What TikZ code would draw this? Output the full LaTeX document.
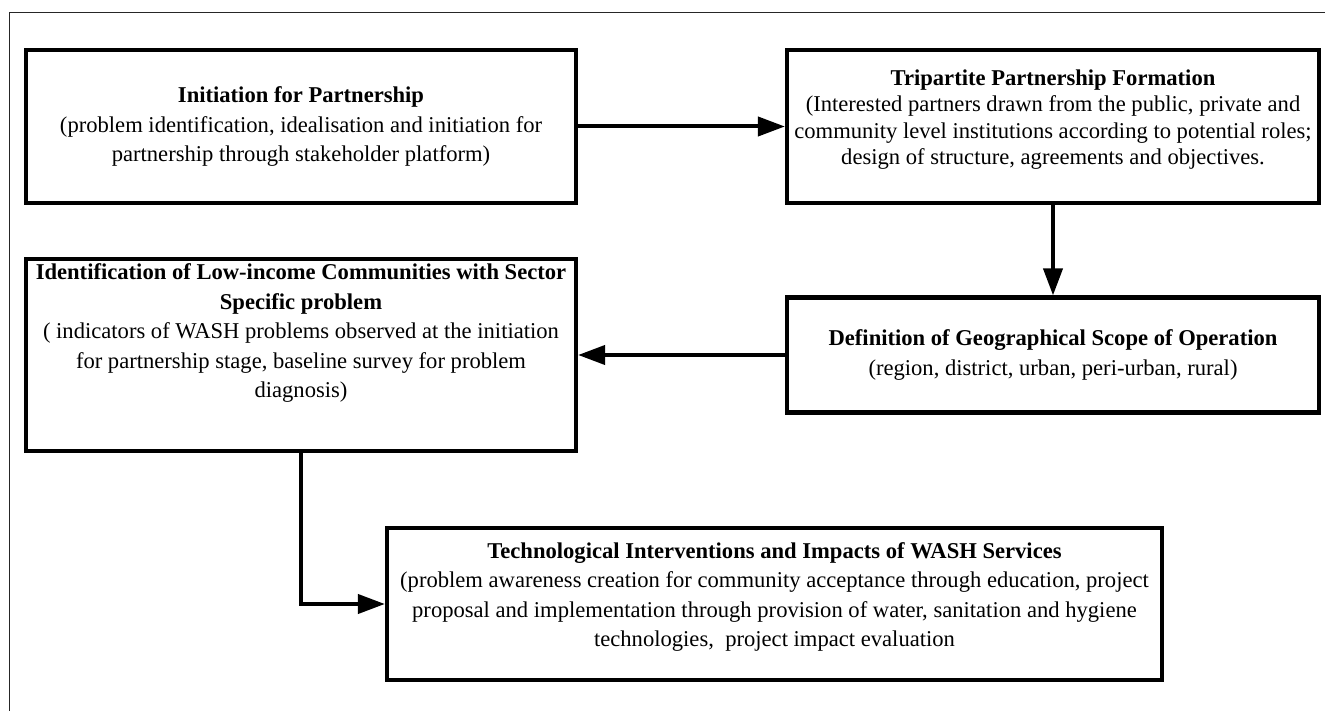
\documentclass[tikz,border=0pt]{standalone}
\usepackage{fontspec}
\setmainfont{Liberation Serif}
\usetikzlibrary{arrows.meta,calc}
\tikzset{
  stagebox/.style={draw=black, line width=4.2pt, rectangle, inner sep=0pt, fill=white},
  stagetext/.style={align=center, inner sep=0pt, font=\fontsize{22.6}{29.5}\selectfont},
  flow/.style={line width=4pt, -{Triangle[length=27pt,width=19pt]}},
  frame/.style={line width=1.3pt, draw=black!85}
}
\begin{document}
\begin{tikzpicture}[x=1pt,y=-1pt]
\useasboundingbox (0,0) rectangle (1325,711);
\fill[white] (0,0) rectangle (1325,711);
% outer frame (only top and left edges visible)
\coordinate (ftl) at (9.5,12.5);
\coordinate (ftr) at (1326,12.5);
\coordinate (fbl) at (9.5,712);
\draw[frame] (ftr) -- (ftl) -- (fbl);

% boxes
\node[stagebox, minimum width=550pt, minimum height=153pt] (b1) at (301,126.5) {};
\node[stagebox, minimum width=532pt, minimum height=153pt] (b2) at (1053,126.5) {};
\node[stagebox, minimum width=550pt, minimum height=192pt] (b3) at (301,355) {};
\node[stagebox, minimum width=532pt, minimum height=115pt] (b4) at (1053,355) {};
\node[stagebox, minimum width=775pt, minimum height=152pt] (b5) at (774.5,604) {};

% texts
\node[stagetext] (t1) at ($(b1.center)+(0,0)$) {\textbf{Initiation for Partnership}\\(problem identification, idealisation and initiation for\\partnership through stakeholder platform)};
\node[stagetext, font=\fontsize{22.6}{26.5}\selectfont] (t2) at ($(b2.center)+(0,-7)$) {\textbf{Tripartite Partnership Formation}\\(Interested partners drawn from the public, private and\\community level institutions according to potential roles;\\design of structure, agreements and objectives.};
\node[stagetext] (t3) at ($(b3.center)+(0,-22)$) {\textbf{Identification of Low-income Communities with Sector}\\\textbf{Specific problem}\\( indicators of WASH problems observed at the initiation\\for partnership stage, baseline survey for problem\\diagnosis)};
\node[stagetext] (t4) at ($(b4.center)+(0,0)$) {\textbf{Definition of Geographical Scope of Operation}\\(region, district, urban, peri-urban, rural)};
\node[stagetext] (t5) at ($(b5.center)+(0,-7)$) {\textbf{Technological Interventions and Impacts of WASH Services}\\(problem awareness creation for community acceptance through education, project\\proposal and implementation through provision of water, sanitation and hygiene\\technologies,\ \ project impact evaluation};

% connectors
\draw[flow] (b1.east) -- (b2.west);
\draw[flow] (b2.south) -- (b4.north);
\draw[flow] (b4.west) -- (b3.east);
\draw[flow] (b3.south) |- (b5.west);
\end{tikzpicture}
\end{document}
